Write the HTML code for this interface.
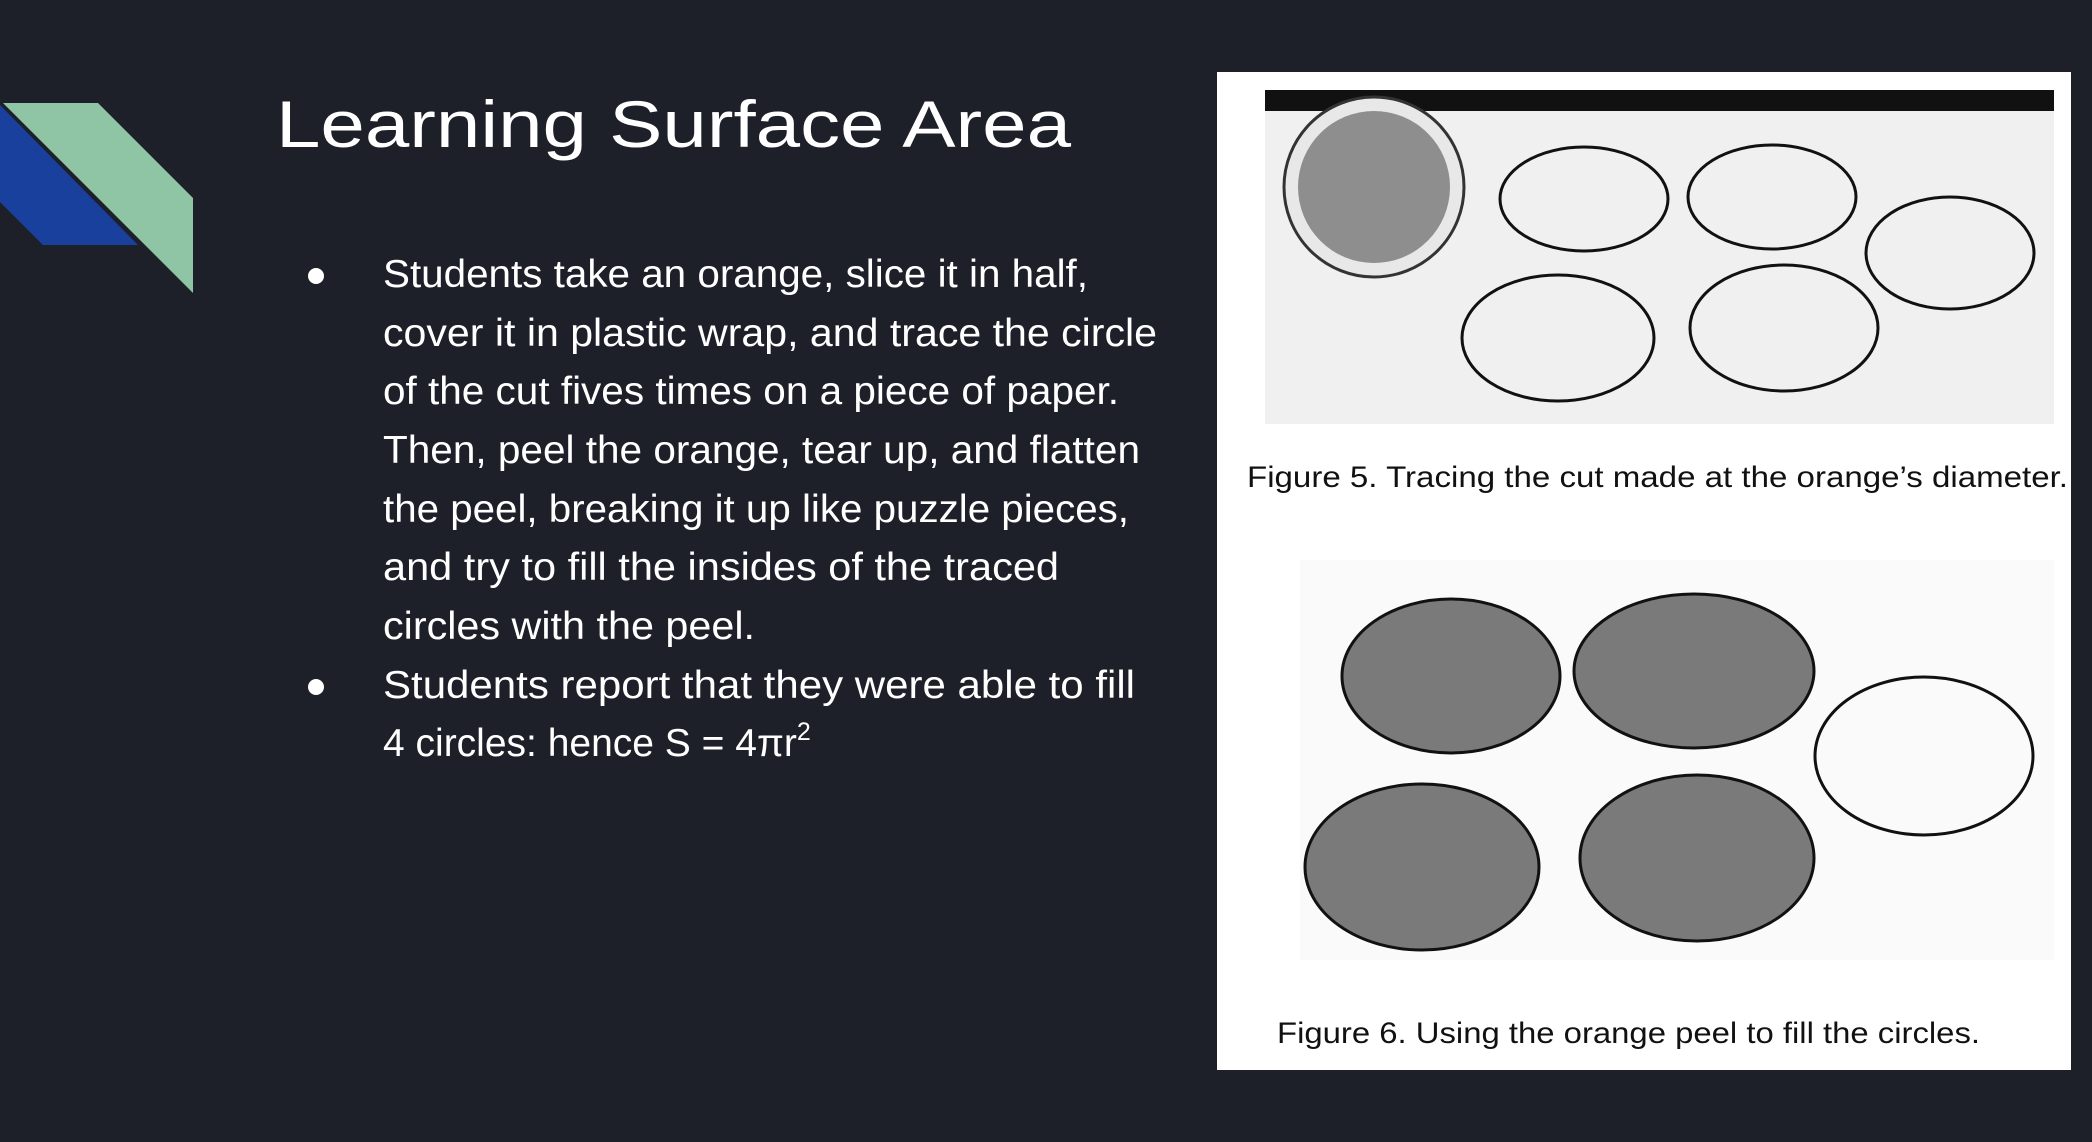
<!DOCTYPE html>
<html><head><meta charset="utf-8"><style>
html,body{margin:0;padding:0;background:#1e2029;}
svg{display:block;}
</style></head><body>
<svg width="2092" height="1142" viewBox="0 0 2092 1142" xmlns="http://www.w3.org/2000/svg">
<rect x="0" y="0" width="2092" height="1142" fill="#1e2029"/>
<polygon points="0,105 138,245 43,245 0,202" fill="#1a409e"/>
<polygon points="3,103 98,103 193,198 193,293" fill="#8fc5a4"/>
<text x="276" y="147" font-family="Liberation Sans, sans-serif" font-size="66" fill="#ffffff" textLength="795" lengthAdjust="spacingAndGlyphs">Learning Surface Area</text>
<g font-family="Liberation Sans, sans-serif" font-size="39" fill="#ffffff">
<circle cx="316" cy="276" r="8" fill="#ffffff"/>
<text x="383" y="287" textLength="705" lengthAdjust="spacingAndGlyphs">Students take an orange, slice it in half,</text>
<text x="383" y="346" textLength="774" lengthAdjust="spacingAndGlyphs">cover it in plastic wrap, and trace the circle</text>
<text x="383" y="404" textLength="736" lengthAdjust="spacingAndGlyphs">of the cut fives times on a piece of paper.</text>
<text x="383" y="463" textLength="757" lengthAdjust="spacingAndGlyphs">Then, peel the orange, tear up, and flatten</text>
<text x="383" y="522" textLength="746" lengthAdjust="spacingAndGlyphs">the peel, breaking it up like puzzle pieces,</text>
<text x="383" y="580" textLength="676" lengthAdjust="spacingAndGlyphs">and try to fill the insides of the traced</text>
<text x="383" y="639" textLength="372" lengthAdjust="spacingAndGlyphs">circles with the peel.</text>
<circle cx="316" cy="687" r="8" fill="#ffffff"/>
<text x="383" y="698" textLength="752" lengthAdjust="spacingAndGlyphs">Students report that they were able to fill</text>
<text x="383" y="756">4 circles: hence S = 4πr<tspan dy="-16" font-size="25">2</tspan></text>
</g>
<g>
<rect x="1217" y="72" width="854" height="998" fill="#ffffff"/>
<rect x="1265" y="90" width="789" height="334" fill="#f0f0f0"/>
<rect x="1265" y="90" width="789" height="21" fill="#111111"/>
<circle cx="1374" cy="187" r="90" fill="#e8e8e8" stroke="#333" stroke-width="3"/>
<circle cx="1374" cy="187" r="76" fill="#8e8e8e"/>
<g fill="none" stroke="#111" stroke-width="3">
<ellipse cx="1584" cy="199" rx="84" ry="52"/>
<ellipse cx="1772" cy="197" rx="84" ry="52"/>
<ellipse cx="1950" cy="253" rx="84" ry="56"/>
<ellipse cx="1558" cy="338" rx="96" ry="63"/>
<ellipse cx="1784" cy="328" rx="94" ry="63"/>
</g>
<text x="1247" y="487" font-family="Liberation Sans, sans-serif" font-size="30" fill="#111" textLength="821" lengthAdjust="spacingAndGlyphs">Figure 5. Tracing the cut made at the orange’s diameter.</text>
<rect x="1300" y="560" width="754" height="400" fill="#fafafa"/>
<g stroke="#111" stroke-width="3">
<ellipse cx="1451" cy="676" rx="109" ry="77" fill="#7a7a7a"/>
<ellipse cx="1694" cy="671" rx="120" ry="77" fill="#7a7a7a"/>
<ellipse cx="1924" cy="756" rx="109" ry="79" fill="none"/>
<ellipse cx="1422" cy="867" rx="117" ry="83" fill="#7a7a7a"/>
<ellipse cx="1697" cy="858" rx="117" ry="83" fill="#7a7a7a"/>
</g>
<text x="1277" y="1043" font-family="Liberation Sans, sans-serif" font-size="30" fill="#111" textLength="703" lengthAdjust="spacingAndGlyphs">Figure 6. Using the orange peel to fill the circles.</text>
</g>
</svg>
</body></html>
